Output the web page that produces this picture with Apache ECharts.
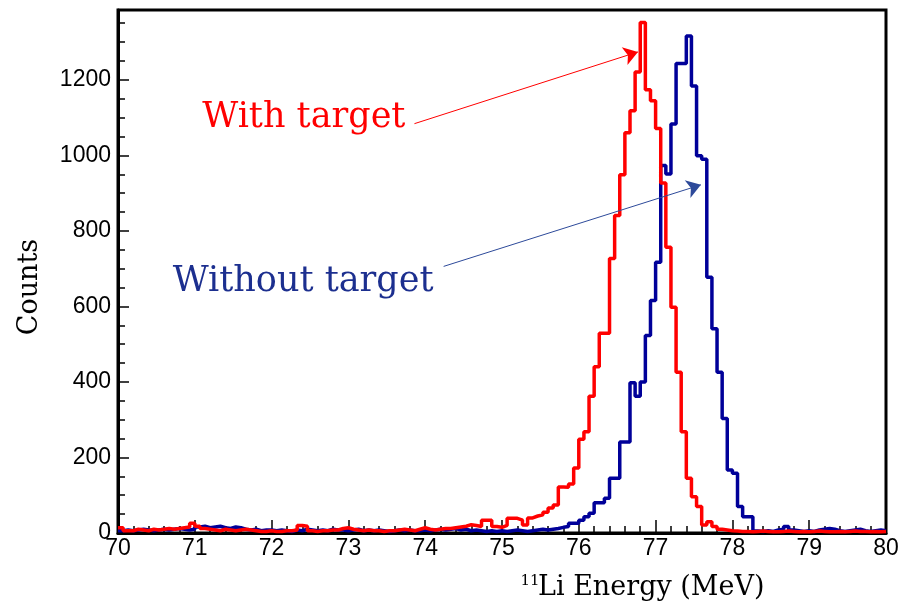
<!DOCTYPE html>
<html>
<head>
<meta charset="utf-8">
<script src="https://cdn.jsdelivr.net/npm/echarts@6/dist/echarts.min.js"></script>
<style>html,body{margin:0;padding:0;background:#fff}#chart{width:902px;height:607px}</style>
</head>
<body>
<div id="chart"></div>
<script>
// Histogram range (MeV) and bin contents (150 bins, 70-80 MeV)
const binLo = 70;
const binHi = 80;
const xTicks = [70, 71, 72, 73, 74, 75, 76, 77, 78, 79, 80];
const yTicks = [0, 200, 400, 600, 800, 1000, 1200];

const redCounts = [
  14, 6, 6, 10, 8, 6, 10, 8, 10, 12,
  10, 12, 14, 16, 26, 18, 12, 10, 8, 6,
  10, 8, 6, 8, 10, 8, 6, 4, 4, 6,
  4, 4, 6, 6, 8, 20, 18, 6, 4, 6,
  6, 8, 8, 12, 14, 10, 8, 6, 8, 6,
  6, 4, 6, 6, 8, 10, 8, 6, 10, 14,
  10, 8, 10, 12, 12, 14, 16, 18, 22, 20,
  17, 34, 34, 17, 15, 20, 39, 39, 34, 21,
  40, 45, 48, 55, 66, 74, 122, 121, 130, 172,
  248, 268, 362, 440, 529, 529, 727, 841, 949, 1060,
  1118, 1221, 1352, 1174, 1145, 1071, 927, 757, 598, 426,
  268, 145, 96, 70, 21, 30, 17, 10, 8, 6,
  5, 4, 4, 3, 4, 5, 4, 3, 3, 4,
  5, 4, 3, 4, 3, 4, 5, 4, 3, 3,
  4, 3, 4, 5, 4, 4, 3, 4, 3, 4
];

const blueCounts = [
  6, 8, 6, 8, 10, 8, 6, 8, 10, 8,
  10, 12, 10, 8, 10, 16, 18, 14, 16, 18,
  14, 12, 16, 14, 10, 8, 10, 6, 8, 8,
  6, 8, 6, 4, 8, 6, 10, 8, 6, 8,
  6, 10, 8, 8, 6, 8, 10, 6, 8, 6,
  8, 6, 4, 6, 8, 6, 8, 6, 6, 8,
  6, 8, 10, 8, 10, 12, 8, 10, 6, 8,
  6, 4, 6, 4, 6, 4, 6, 8, 6, 4,
  6, 8, 10, 8, 10, 12, 15, 17, 26, 26,
  34, 43, 52, 80, 80, 92, 145, 145, 241, 241,
  398, 362, 400, 523, 616, 717, 973, 951, 1083, 1243,
  1243, 1316, 1184, 999, 990, 677, 541, 426, 303, 167,
  158, 70, 43, 43, 5, 4, 6, 4, 8, 10,
  17, 8, 6, 4, 6, 4, 8, 10, 12, 10,
  6, 4, 6, 8, 10, 6, 4, 6, 8, 6
];

// Annotation anchors in data units
const redLabel = { text: 'With target', at: [72.42, 1100] };
const blueLabel = { text: 'Without target', at: [72.41, 666] };
const redArrow = [[73.86, 1084], [76.77, 1274]];
const blueArrow = [[74.24, 706], [77.59, 922]];

function toSteps(counts) {
  const w = (binHi - binLo) / counts.length;
  const pts = counts.map((c, i) => [binLo + i * w, c]);
  pts.push([binHi, counts[counts.length - 1]]);
  return pts;
}

const RED = '#ff0000';
const BLUE = '#000099';
const BLUE_TXT = '#1c2f8f';
const BLUE_ARR = '#2d4a9a';

const chart = echarts.init(document.getElementById('chart'), null, { renderer: 'canvas' });
chart.setOption({
  animation: false,
  backgroundColor: '#ffffff',
  grid: { left: 118, right: 16, top: 10, bottom: 74, show: true, borderColor: '#000', borderWidth: 3, backgroundColor: 'transparent' },
  xAxis: {
    type: 'value', min: xTicks[0], max: xTicks[xTicks.length - 1], interval: 1,
    axisLine: { show: true, lineStyle: { color: '#000', width: 3 } },
    axisTick: { show: true, inside: true, length: 13, lineStyle: { color: '#000', width: 1.5 } },
    minorTick: { show: true, splitNumber: 5, length: 7, lineStyle: { color: '#000', width: 1.5 } },
    splitLine: { show: false },
    axisLabel: { color: '#000', fontSize: 23, fontFamily: 'Liberation Sans', margin: 4, formatter: v => String(v) }
  },
  yAxis: {
    type: 'value', min: yTicks[0], max: 1385, interval: 200,
    axisLine: { show: true, lineStyle: { color: '#000', width: 3 } },
    axisTick: { show: true, inside: true, length: 11, lineStyle: { color: '#000', width: 1.5 } },
    minorTick: { show: true, splitNumber: 4, length: 7, lineStyle: { color: '#000', width: 1.5 } },
    splitLine: { show: false },
    axisLabel: { color: '#000', fontSize: 23, fontFamily: 'Liberation Sans', margin: 7, showMaxLabel: false, formatter: v => String(v) }
  },
  graphic: [
    { type: 'text', x: 30, y: 287, rotation: Math.PI / 2,
      style: { text: 'Counts', fontSize: 27, fontFamily: 'DejaVu Serif', fill: '#000', align: 'center', verticalAlign: 'middle' } },
    { type: 'text', x: 530, y: 581,
      style: { text: '11', fontSize: 15, fontFamily: 'DejaVu Serif', fill: '#000', align: 'center', verticalAlign: 'middle' } },
    { type: 'text', x: 538, y: 588,
      style: { text: 'Li Energy (MeV)', fontSize: 27, fontFamily: 'DejaVu Serif', fill: '#000', align: 'left', verticalAlign: 'middle' } }
  ],
  series: [
    {
      type: 'line', name: 'Without target', step: 'end', showSymbol: false, symbol: 'none',
      data: toSteps(blueCounts),
      lineStyle: { color: BLUE, width: 3.5 }, itemStyle: { color: BLUE },
      z: 2,
      markPoint: {
        silent: true, symbol: 'circle', symbolSize: 1, itemStyle: { color: 'rgba(0,0,0,0)' },
        label: { show: true, position: 'inside', color: BLUE_TXT, fontSize: 35, fontFamily: 'DejaVu Serif' },
        data: [{ coord: blueLabel.at, label: { formatter: blueLabel.text } }]
      },
      markLine: {
        silent: true, symbol: ['none', 'arrow'], symbolSize: 14, label: { show: false },
        lineStyle: { color: BLUE_ARR, width: 1, type: 'solid' },
        emphasis: { disabled: true },
        data: [[{ coord: blueArrow[0] }, { coord: blueArrow[1] }]]
      }
    },
    {
      type: 'line', name: 'With target', step: 'end', showSymbol: false, symbol: 'none',
      data: toSteps(redCounts),
      lineStyle: { color: RED, width: 3.5 }, itemStyle: { color: RED },
      z: 3,
      markPoint: {
        silent: true, symbol: 'circle', symbolSize: 1, itemStyle: { color: 'rgba(0,0,0,0)' },
        label: { show: true, position: 'inside', color: RED, fontSize: 35, fontFamily: 'DejaVu Serif' },
        data: [{ coord: redLabel.at, label: { formatter: redLabel.text } }]
      },
      markLine: {
        silent: true, symbol: ['none', 'arrow'], symbolSize: 14, label: { show: false },
        lineStyle: { color: RED, width: 1, type: 'solid' },
        emphasis: { disabled: true },
        data: [[{ coord: redArrow[0] }, { coord: redArrow[1] }]]
      }
    }
  ]
});
</script>
</body>
</html>
